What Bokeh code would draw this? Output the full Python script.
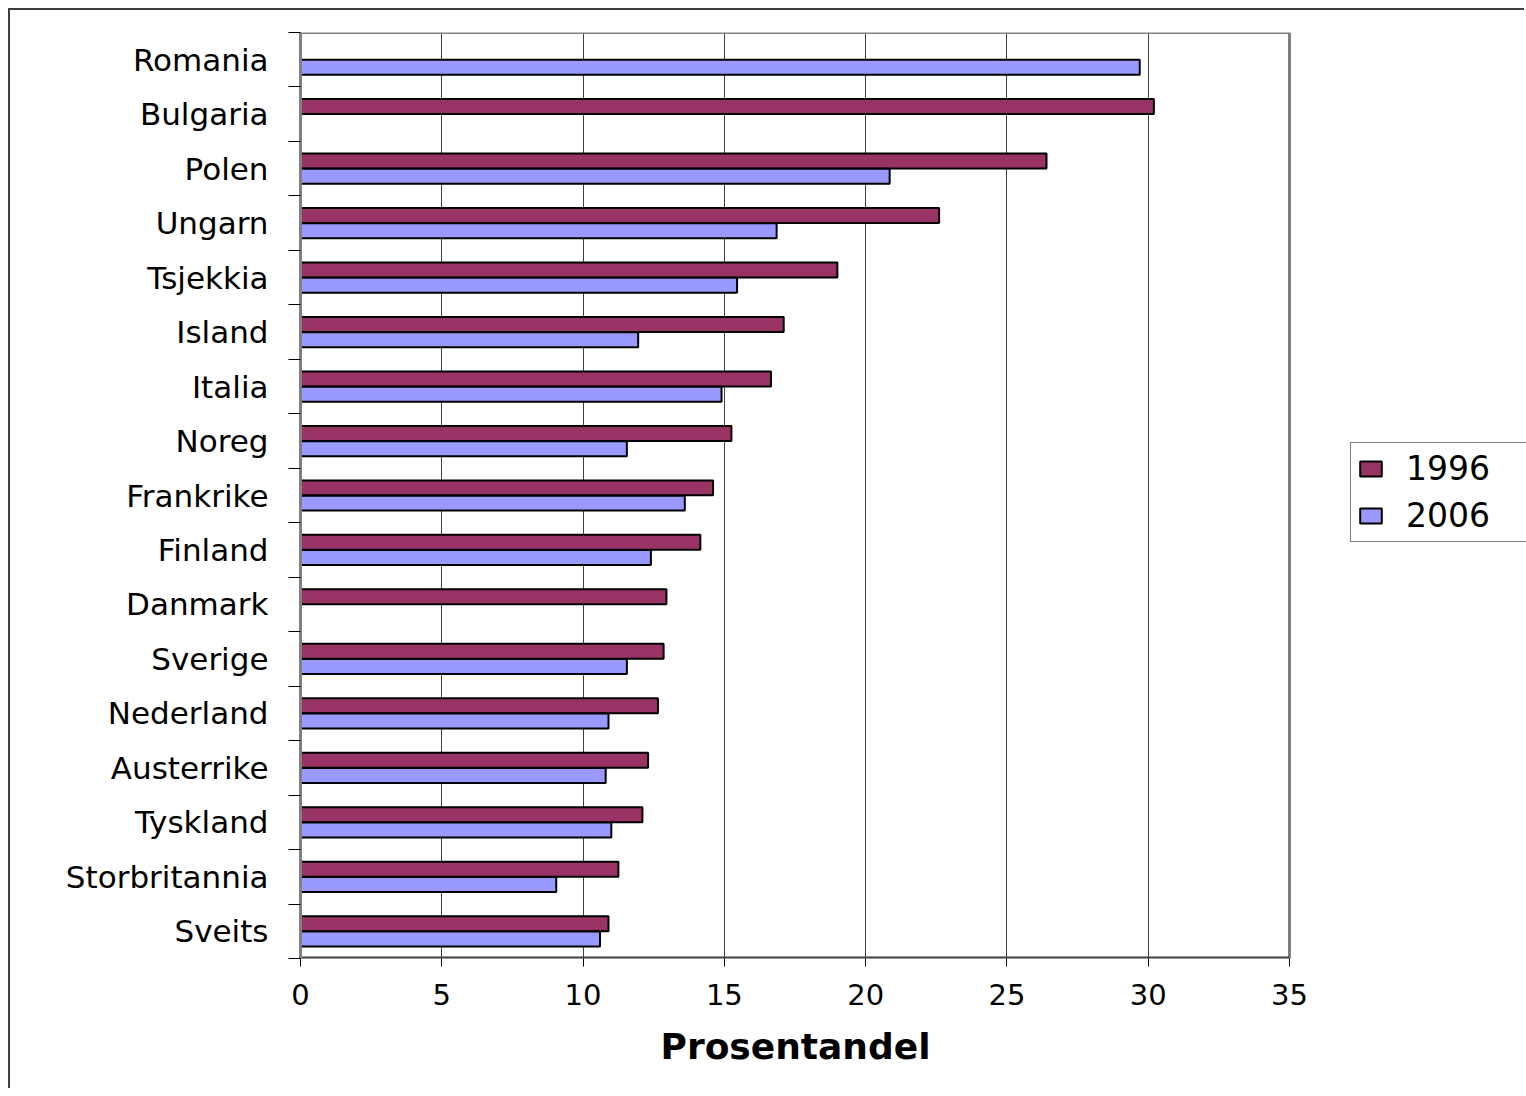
from bokeh.plotting import figure
from bokeh.models import (Range1d, FixedTicker, ColumnDataSource, Legend, LegendItem, Title)
from bokeh.embed import file_html
from bokeh.resources import INLINE

countries = ["Romania", "Bulgaria", "Polen", "Ungarn", "Tsjekkia", "Island", "Italia",
             "Noreg", "Frankrike", "Finland", "Danmark", "Sverige", "Nederland",
             "Austerrike", "Tyskland", "Storbritannia", "Sveits"]
v1996 = [None, 30.2, 26.4, 22.6, 19.0, 17.1, 16.65, 15.25, 14.6, 14.15, 12.95, 12.85,
         12.65, 12.3, 12.1, 11.25, 10.9]
v2006 = [29.7, None, 20.85, 16.85, 15.45, 11.95, 14.9, 11.55, 13.6, 12.4, None, 11.55,
         10.9, 10.8, 11.0, 9.05, 10.6]
x_ticks = [0, 5, 10, 15, 20, 25, 30, 35]
series_names = ["1996", "2006"]
colors = ["#993366", "#9999FF"]

n = len(countries)
pos = [n - 1 - i for i in range(n)]
offset = 0.14
bar_h = 0.275
x_max = x_ticks[-1]

def src(vals, off):
    ys, xs = [], []
    for p_, v in zip(pos, vals):
        if v is not None:
            ys.append(p_ + off)
            xs.append(v)
    return ColumnDataSource(dict(y=ys, right=xs))

s96 = src(v1996, offset)
s06 = src(v2006, -offset)

W, H = 1516, 1080
fl, ft, fh = 290, 22, 926
plot_w = 989              # width of the 0..35 plotting area in px
frame_w = W - fl          # frame extends to the right edge (room for legend)

p = figure(width=W, height=H, output_backend="svg", toolbar_location=None,
           x_range=Range1d(0, x_max * frame_w / plot_w), y_range=Range1d(-0.5, n - 0.5),
           min_border_left=fl, min_border_top=ft,
           min_border_right=0, min_border_bottom=H - ft - fh)
p.styles = {"border-left": "2px solid #404040", "border-top": "2px solid #404040",
            "margin-left": "8px", "margin-top": "8px"}

p.background_fill_color = "white"
p.border_fill_color = "white"
p.outline_line_color = None

# plot-area border (top/right, gray) and x axis line
p.segment(x0=[0, x_max], y0=[n - 0.5, -0.5], x1=[x_max, x_max], y1=[n - 0.5, n - 0.5],
          line_color="#808080", line_width=3)
p.segment(x0=[0], y0=[-0.5], x1=[x_max], y1=[-0.5], line_color="#404040", line_width=4)

r1 = p.hbar(y="y", right="right", left=0, height=bar_h, source=s96,
            fill_color=colors[0], line_color="black", line_width=2)
r2 = p.hbar(y="y", right="right", left=0, height=bar_h, source=s06,
            fill_color=colors[1], line_color="black", line_width=2)

# x axis
p.xaxis.ticker = FixedTicker(ticks=x_ticks)
p.xaxis.axis_line_color = None
p.xaxis.major_tick_in = 0
p.xaxis.major_tick_out = 8
p.xaxis.major_tick_line_color = "black"
p.xaxis.minor_tick_line_color = None
p.xaxis.major_label_text_font = "DejaVu Sans"
p.xaxis.major_label_text_font_size = "29px"
p.xaxis.major_label_text_color = "black"
p.xaxis.major_label_standoff = 17

title = Title(text="Prosentandel", align="left", offset=360,
              text_font="DejaVu Sans", text_font_style="bold",
              text_font_size="36px", text_color="black", standoff=33)
p.add_layout(title, "below")

# y axis
p.yaxis.ticker = FixedTicker(ticks=pos, minor_ticks=[k - 0.5 for k in range(n + 1)])
p.yaxis.major_label_overrides = {pp: c for pp, c in zip(pos, countries)}
p.yaxis.axis_line_color = "#808080"
p.yaxis.axis_line_width = 3
p.yaxis.major_tick_line_color = None
p.yaxis.major_tick_in = 0
p.yaxis.major_tick_out = 0
p.yaxis.minor_tick_in = 0
p.yaxis.minor_tick_out = 12
p.yaxis.minor_tick_line_color = "black"
p.yaxis.major_label_text_font = "DejaVu Sans"
p.yaxis.major_label_text_font_size = "31px"
p.yaxis.major_label_text_color = "black"
p.yaxis.major_label_standoff = 20

p.xgrid.ticker = FixedTicker(ticks=x_ticks[1:-1])
p.xgrid.grid_line_color = "#404040"
p.xgrid.grid_line_width = 1
p.ygrid.grid_line_color = None

legend = Legend(items=[LegendItem(label=series_names[0], renderers=[r1]),
                       LegendItem(label=series_names[1], renderers=[r2])],
                location=(plot_w + 61, 416), orientation="vertical")
legend.border_line_color = "black"
legend.border_line_width = 1
legend.background_fill_color = "white"
legend.label_text_font = "DejaVu Sans"
legend.label_text_font_size = "33px"
legend.label_text_color = "black"
legend.glyph_width = 27
legend.glyph_height = 19
legend.label_height = 38
legend.label_width = 125
legend.label_standoff = 22
legend.spacing = 8
legend.padding = 6
legend.margin = 0
p.add_layout(legend, "center")

open("out.html", "w").write(file_html(p, INLINE))
